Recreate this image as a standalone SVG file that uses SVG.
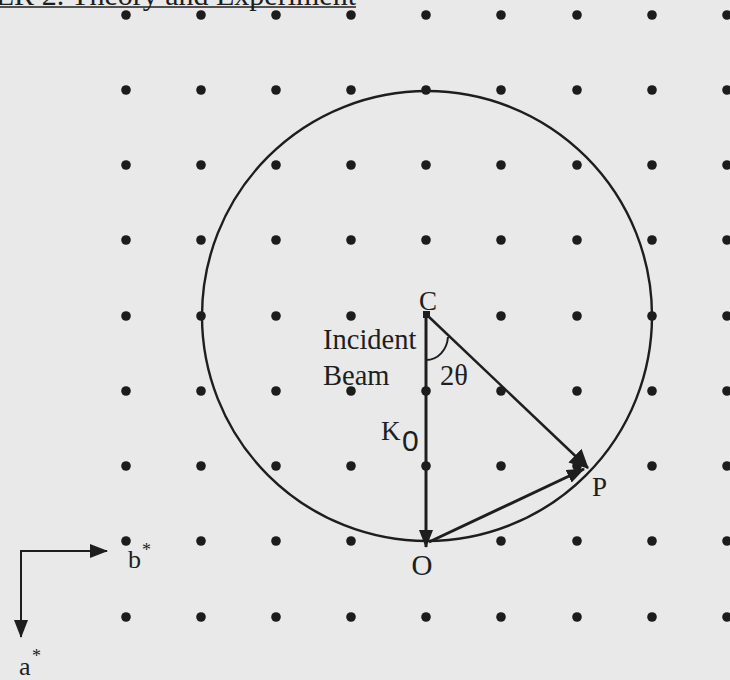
<svg xmlns="http://www.w3.org/2000/svg" width="730" height="680" viewBox="0 0 730 680">
<defs>
<style>
.bg{fill:#e9e9e9}
.dot{fill:#1c1c1c}
.t{font-family:"Liberation Serif","Times New Roman",serif;fill:#1e1e1e}
.ln{stroke:#1e1e1e;fill:none;stroke-linecap:butt}
</style>
<marker id="ah" viewBox="0 0 18 14" refX="17" refY="7" markerWidth="18" markerHeight="14" markerUnits="userSpaceOnUse" orient="auto">
<path d="M0,0 L18,7 L0,14 z" fill="#1e1e1e"/>
</marker>
<marker id="ahs" viewBox="0 0 19 19" refX="18" refY="9.5" markerWidth="19" markerHeight="19" markerUnits="userSpaceOnUse" orient="auto">
<path d="M0,0 L19,9.5 L0,19 z" fill="#1e1e1e"/>
</marker>
</defs>
<rect class="bg" x="0" y="0" width="730" height="680"/>

<g id="header">
<text class="t" x="356" y="5" font-size="30" text-anchor="end">ER 2. Theory and Experiment</text>
<line class="ln" x1="0" y1="7" x2="356" y2="7" stroke-width="1.5"/>
</g>

<g id="lattice">
<g class="dot">
<circle cx="126" cy="15" r="4.8"/><circle cx="201" cy="15" r="4.8"/><circle cx="276" cy="15" r="4.8"/><circle cx="351" cy="15" r="4.8"/><circle cx="426" cy="15" r="4.8"/><circle cx="501" cy="15" r="4.8"/><circle cx="577" cy="15" r="4.8"/><circle cx="652" cy="15" r="4.8"/><circle cx="727" cy="15" r="4.8"/>
<circle cx="126" cy="90" r="4.8"/><circle cx="201" cy="90" r="4.8"/><circle cx="276" cy="90" r="4.8"/><circle cx="351" cy="90" r="4.8"/><circle cx="426" cy="90" r="4.8"/><circle cx="501" cy="90" r="4.8"/><circle cx="577" cy="90" r="4.8"/><circle cx="652" cy="90" r="4.8"/><circle cx="727" cy="90" r="4.8"/>
<circle cx="126" cy="165" r="4.8"/><circle cx="201" cy="165" r="4.8"/><circle cx="276" cy="165" r="4.8"/><circle cx="351" cy="165" r="4.8"/><circle cx="426" cy="165" r="4.8"/><circle cx="501" cy="165" r="4.8"/><circle cx="577" cy="165" r="4.8"/><circle cx="652" cy="165" r="4.8"/><circle cx="727" cy="165" r="4.8"/>
<circle cx="126" cy="240" r="4.8"/><circle cx="201" cy="240" r="4.8"/><circle cx="276" cy="240" r="4.8"/><circle cx="351" cy="240" r="4.8"/><circle cx="426" cy="240" r="4.8"/><circle cx="501" cy="240" r="4.8"/><circle cx="577" cy="240" r="4.8"/><circle cx="652" cy="240" r="4.8"/><circle cx="727" cy="240" r="4.8"/>
<circle cx="126" cy="316" r="4.8"/><circle cx="201" cy="316" r="4.8"/><circle cx="276" cy="316" r="4.8"/><circle cx="351" cy="316" r="4.8"/><circle cx="501" cy="316" r="4.8"/><circle cx="577" cy="316" r="4.8"/><circle cx="652" cy="316" r="4.8"/><circle cx="727" cy="316" r="4.8"/>
<circle cx="126" cy="391" r="4.8"/><circle cx="201" cy="391" r="4.8"/><circle cx="276" cy="391" r="4.8"/><circle cx="351" cy="391" r="4.8"/><circle cx="426" cy="391" r="4.8"/><circle cx="501" cy="391" r="4.8"/><circle cx="577" cy="391" r="4.8"/><circle cx="652" cy="391" r="4.8"/><circle cx="727" cy="391" r="4.8"/>
<circle cx="126" cy="466" r="4.8"/><circle cx="201" cy="466" r="4.8"/><circle cx="276" cy="466" r="4.8"/><circle cx="351" cy="466" r="4.8"/><circle cx="426" cy="466" r="4.8"/><circle cx="501" cy="466" r="4.8"/><circle cx="577" cy="466" r="4.8"/><circle cx="652" cy="466" r="4.8"/><circle cx="727" cy="466" r="4.8"/>
<circle cx="126" cy="541" r="4.8"/><circle cx="201" cy="541" r="4.8"/><circle cx="276" cy="541" r="4.8"/><circle cx="351" cy="541" r="4.8"/><circle cx="501" cy="541" r="4.8"/><circle cx="577" cy="541" r="4.8"/><circle cx="652" cy="541" r="4.8"/><circle cx="727" cy="541" r="4.8"/>
<circle cx="126" cy="617" r="4.8"/><circle cx="201" cy="617" r="4.8"/><circle cx="276" cy="617" r="4.8"/><circle cx="351" cy="617" r="4.8"/><circle cx="426" cy="617" r="4.8"/><circle cx="501" cy="617" r="4.8"/><circle cx="577" cy="617" r="4.8"/><circle cx="652" cy="617" r="4.8"/><circle cx="727" cy="617" r="4.8"/>
</g>
</g>

<g id="ewald-sphere">
<circle class="ln" cx="427" cy="316" r="225" stroke-width="2.4"/>
</g>

<g id="connectors">
<line class="ln" x1="426" y1="312" x2="426" y2="547" stroke-width="3" marker-end="url(#ah)"/>
<rect x="423" y="311" width="7" height="7" fill="#1e1e1e"/>
<line class="ln" x1="428" y1="316" x2="588" y2="468" stroke-width="2.5" marker-end="url(#ahs)"/>
<line class="ln" x1="429" y1="542" x2="584" y2="469" stroke-width="3" marker-end="url(#ah)"/>
<path class="ln" d="M426,360 C438,360 447,350 448,337" stroke-width="2"/>
</g>

<g id="axes">
<line class="ln" x1="21" y1="551" x2="21" y2="637" stroke-width="2" marker-end="url(#ah)"/>
<line class="ln" x1="20" y1="551" x2="107" y2="551" stroke-width="2" marker-end="url(#ah)"/>
<text class="t" x="128" y="568" font-size="26">b</text>
<text class="t" x="142" y="556" font-size="18">*</text>
<text class="t" x="19" y="675" font-size="26">a</text>
<text class="t" x="32" y="662" font-size="18">*</text>
</g>

<g id="C"><text class="t" x="428" y="310" font-size="27" text-anchor="middle">C</text></g>
<g id="O"><text class="t" x="422" y="575" font-size="29" text-anchor="middle">O</text></g>
<g id="P"><text class="t" x="592" y="496" font-size="27">P</text></g>
<g id="incident-beam">
<text class="t" x="323" y="349" font-size="28.5">Incident</text>
<text class="t" x="323" y="385" font-size="28.5">Beam</text>
</g>
<g id="angle"><text class="t" x="440" y="385" font-size="28.5">2θ</text></g>
<g id="K0">
<text class="t" x="381" y="440" font-size="27">K</text>
<text x="402" y="451" font-size="30" font-family="Liberation Sans, Arial, sans-serif" fill="#1e1e1e">0</text>
</g>
</svg>
